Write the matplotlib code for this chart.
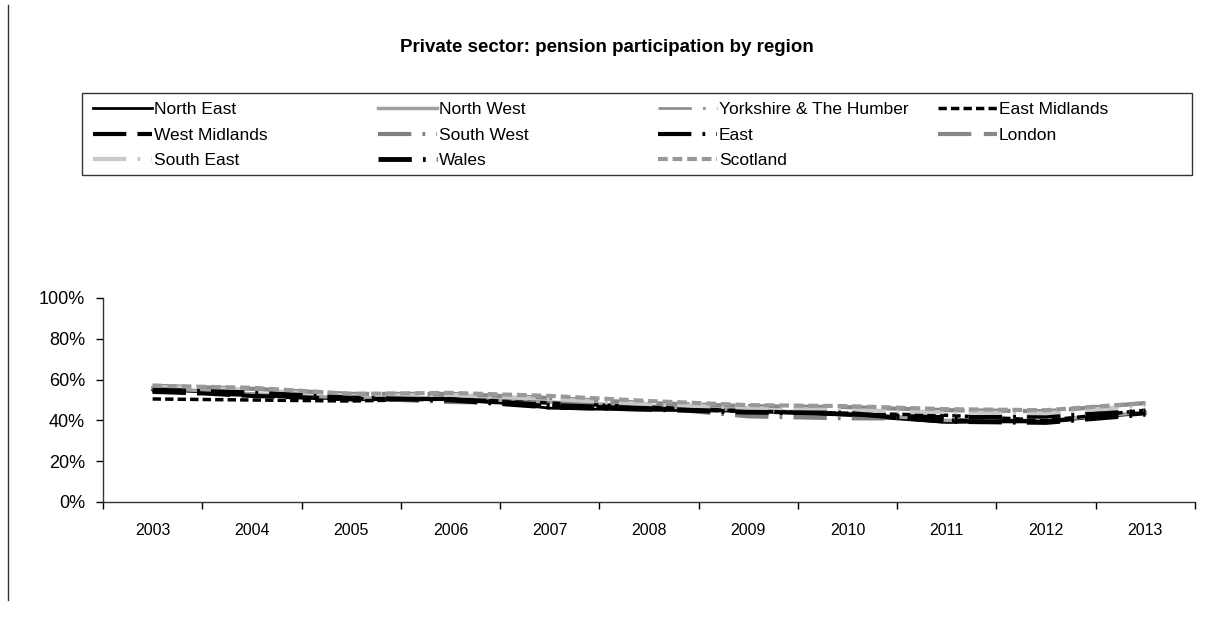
import numpy as np
import matplotlib
matplotlib.use("Agg")
import matplotlib.pyplot as plt
from matplotlib.lines import Line2D
from matplotlib.patches import Rectangle

plt.rcParams['font.family'] = ['Liberation Sans', 'DejaVu Sans']
plt.rcParams['lines.scale_dashes'] = False

years = ["2003", "2004", "2005", "2006", "2007", "2008", "2009", "2010", "2011", "2012", "2013"]

# participation (%)
north_east    = [55.0, 53.0, 50.0, 51.0, 46.0, 45.0, 44.5, 42.5, 39.0, 39.5, 43.5]
north_west    = [56.0, 53.0, 51.0, 51.0, 49.0, 47.0, 45.0, 43.5, 40.0, 40.0, 44.0]
yorkshire     = [55.0, 53.0, 50.0, 50.0, 47.5, 45.5, 44.5, 42.0, 40.0, 41.5, 44.5]
east_midlands = [50.5, 50.0, 49.5, 50.5, 48.5, 46.5, 44.5, 43.5, 42.5, 40.0, 45.0]
west_midlands = [54.5, 52.0, 50.5, 50.5, 47.0, 46.0, 44.5, 43.0, 40.0, 39.5, 43.5]
south_west    = [56.0, 54.0, 51.0, 49.0, 48.5, 46.5, 42.0, 41.0, 41.0, 42.0, 45.0]
east          = [54.0, 52.5, 50.5, 50.5, 47.5, 46.0, 45.0, 43.0, 41.5, 42.0, 44.5]
london        = [57.0, 55.5, 53.0, 53.0, 51.0, 48.5, 47.0, 46.5, 45.0, 44.5, 48.5]
south_east    = [56.5, 55.0, 52.0, 52.5, 50.5, 48.0, 46.0, 45.0, 44.0, 43.5, 47.5]
wales         = [55.0, 53.5, 51.0, 50.0, 46.5, 45.5, 44.0, 43.5, 39.5, 39.0, 43.0]
scotland      = [57.0, 56.0, 53.0, 53.5, 52.0, 49.5, 47.5, 47.0, 45.5, 45.0, 48.5]

long_dash_dot = (0, (24, 8, 2, 8))
styles = [
    ("North East", north_east, "#000000", 2.0, "-"),
    ("North West", north_west, "#a0a0a0", 2.5, "-"),
    ("Yorkshire & The Humber", yorkshire, "#909090", 2.0, long_dash_dot),
    ("East Midlands", east_midlands, "#000000", 2.5, (0, (6, 3))),
    ("West Midlands", west_midlands, "#000000", 3.0, (0, (24, 8))),
    ("South West", south_west, "#808080", 3.0, long_dash_dot),
    ("East", east, "#000000", 3.0, long_dash_dot),
    ("London", london, "#888888", 3.0, (0, (24, 9))),
    ("South East", south_east, "#c8c8c8", 3.0, long_dash_dot),
    ("Wales", wales, "#000000", 3.5, long_dash_dot),
    ("Scotland", scotland, "#999999", 3.0, (0, (7, 3.5))),
]

W, H = 1214, 628
fig = plt.figure(figsize=(W/100, H/100), dpi=100)
ax = fig.add_axes([103/W, 1-502/H, (1195-103)/W, 204/H])

x = np.arange(len(years))
handles = {}
for name, vals, col, lw, ls in styles:
    ln, = ax.plot(x, np.array(vals)/100, color=col, lw=lw, linestyle=ls, label=name)
    handles[name] = ln

ax.set_xlim(-0.5, len(years)-0.5)
ax.set_ylim(0, 1)
yt = np.arange(0, 1.01, 0.2)
ax.set_yticks(yt)
ax.set_yticklabels([f"{int(round(v*100))}%" for v in yt])
ax.set_xticks(np.arange(-0.5, len(years), 1.0))
ax.set_xticklabels([])
ax.set_xticks(x, minor=True)
ax.set_xticklabels(years, minor=True)
ax.tick_params(axis='x', which='minor', length=0, pad=15, labelsize=11.5)
ax.tick_params(axis='x', which='major', length=5, direction='out', width=1)
ax.tick_params(axis='y', length=5, direction='out', width=1, labelsize=13, pad=8)
for s in ['top', 'right']:
    ax.spines[s].set_visible(False)
for s in ['left', 'bottom']:
    ax.spines[s].set_linewidth(1.0)
    ax.spines[s].set_color('#333333')

fig.text(607/W, 1-47/H, "Private sector: pension participation by region",
         ha='center', va='center', fontsize=13.5, fontweight='bold')

# legend: Excel-style fixed column pitch, one legend per column
columns = [["North East", "West Midlands", "South East"],
           ["North West", "South West", "Wales"],
           ["Yorkshire & The Humber", "East", "Scotland"],
           ["East Midlands", "London"]]
col_x = [93, 378, 658, 938]
for names, cx in zip(columns, col_x):
    fig.legend([handles[n] for n in names], names, loc='upper left',
               bbox_to_anchor=(cx/W, 1-102/H), fontsize=12.5, frameon=False,
               borderpad=0, borderaxespad=0, handlelength=3.4, handletextpad=0.12,
               labelspacing=0.6)

fig.add_artist(Rectangle((82/W, 1-175/H), (1192-82)/W, 82/H, transform=fig.transFigure,
                         fill=False, edgecolor='#333333', lw=1.0))
fig.add_artist(Line2D([8/W, 8/W], [1-5/H, 1-600/H],
                      transform=fig.transFigure, color='#333333', lw=1.0))

fig.savefig("out.png", dpi=100, facecolor='white')
